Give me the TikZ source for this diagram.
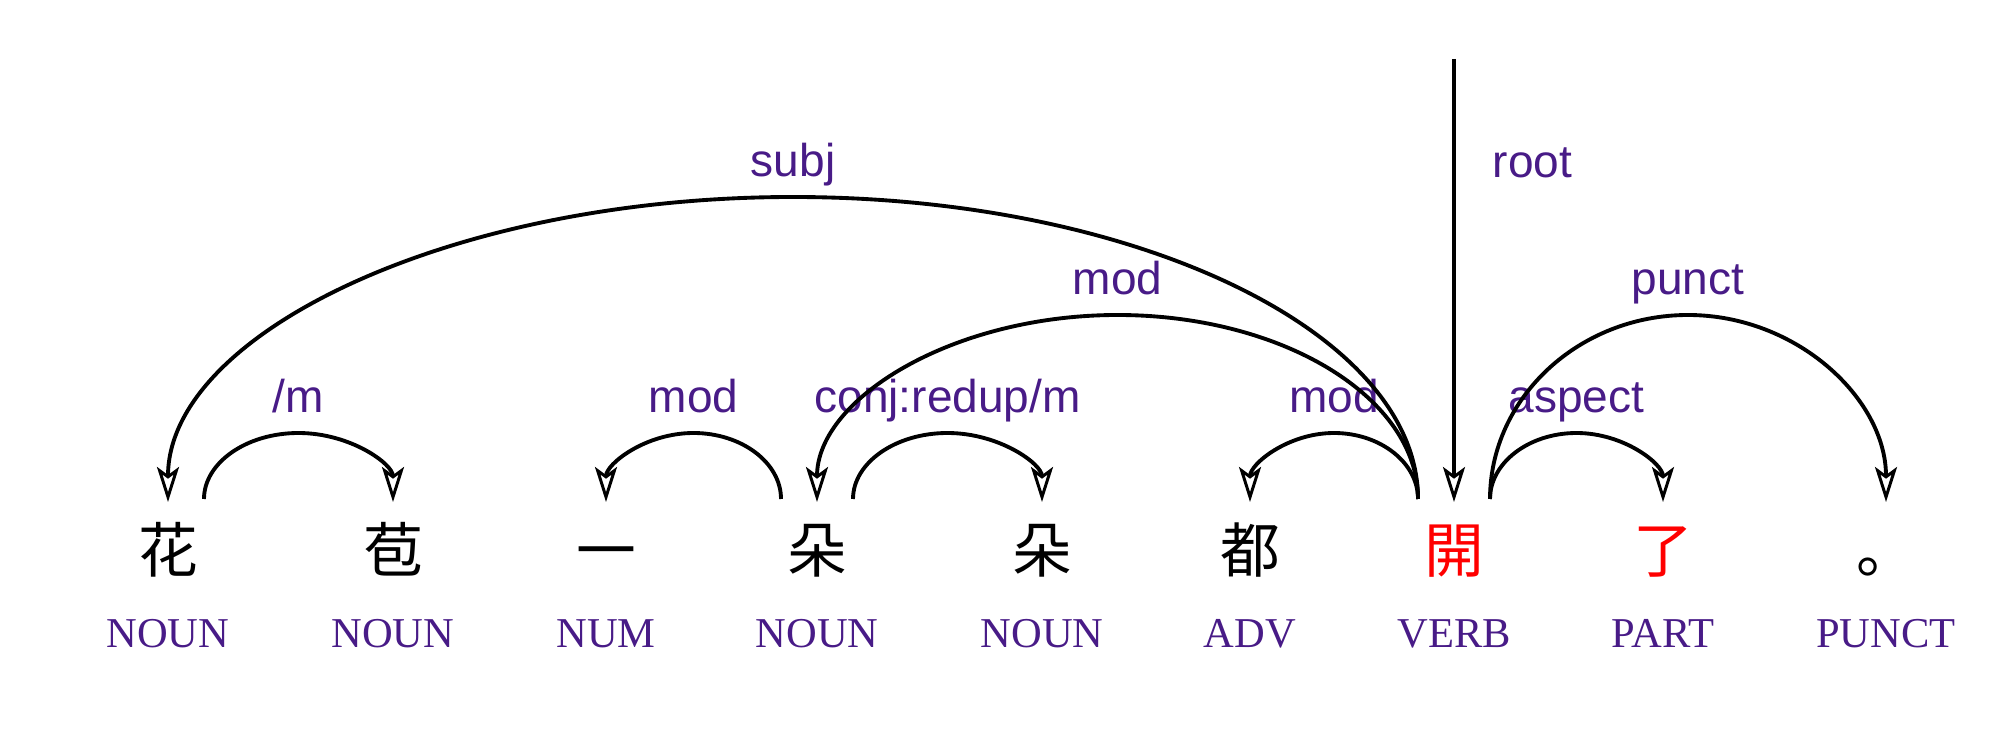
\documentclass[tikz,border=0pt]{standalone}
\usepackage{fontspec}
\setmainfont{Liberation Serif}
\setsansfont{Liberation Sans}
\newfontfamily\cjk{Noto Sans CJK SC}
\usetikzlibrary{arrows.meta,calc}
\tikzset{line cap=round,line join=round}
\definecolor{tagpurple}{RGB}{72,27,135}

\begin{document}
\begin{tikzpicture}[x=0.1mm,y=-0.1mm,
    word/.style={anchor=base,inner sep=0pt,font=\cjk\fontsize{17pt}{17pt}\selectfont},
    postag/.style={anchor=base,inner sep=0pt,text=tagpurple,font=\fontsize{12.1pt}{12pt}\selectfont},
    deplabel/.style={anchor=base,inner sep=0pt,text=tagpurple,font=\sffamily\fontsize{13.1pt}{13pt}\selectfont},
    dep/.style={line width=1.1pt,-{Stealth[open,length=3.5mm,width=2.2mm,inset=0.8mm,line width=0.85pt]}}]
    \useasboundingbox (0,0) rectangle (2008,748);
    % words, tags and arc anchors
    \foreach \i/\x/\zi/\tg/\col in {1/168/花/NOUN/black, 2/393/苞/NOUN/black, 3/606/一/NUM/black,
        4/817/朵/NOUN/black, 5/1042/朵/NOUN/black, 6/1250/都/ADV/black,
        7/1454/開/VERB/red, 8/1663/了/PART/red, 9/1886/。/PUNCT/black}{%
        \node[word,text=\col,name=w\i] at (\x,573) {\zi};
        \node[postag,name=p\i] at (\x,648) {\tg};
        \coordinate (a\i) at ([yshift=7.1mm]w\i.base);
    }
    % dependency arcs
    \foreach \src/\off/\tgt/\lvl/\lab in {1/36/2/433/{/m}, 4/-36/3/433/mod, 4/36/5/433/{conj:redup/m},
        7/-36/6/433/mod, 7/36/8/433/aspect, 7/-36/4/315/mod, 7/36/9/315/punct, 7/-36/1/197/subj}{%
        \coordinate (s) at ([xshift=\off*0.1mm,yshift=0.3mm]a\src);
        \coordinate (mid) at ($(s)!.5!(a\tgt)$);
        \coordinate (lvl) at (0,\lvl);
        \coordinate (top) at (mid |- lvl);
        \draw[dep] (s) .. controls ($(s)!.55!(s |- top)$) and ($(top)!.55!(top -| s)$) .. (top)
            .. controls ($(top)!.55!(top -| a\tgt)$) and ($(a\tgt)!.55!(a\tgt |- top)$) .. (a\tgt);
        \node[deplabel] at ([yshift=2mm]top) {\lab};
    }
    % root
    \coordinate (rootstart) at ([yshift=44.3mm]a7);
    \draw[dep] (rootstart) -- (a7);
    \node[deplabel,anchor=base west,name=rootlabel] at ([xshift=3.8mm,yshift=32.4mm]a7) {root};
\end{tikzpicture}
\end{document}
